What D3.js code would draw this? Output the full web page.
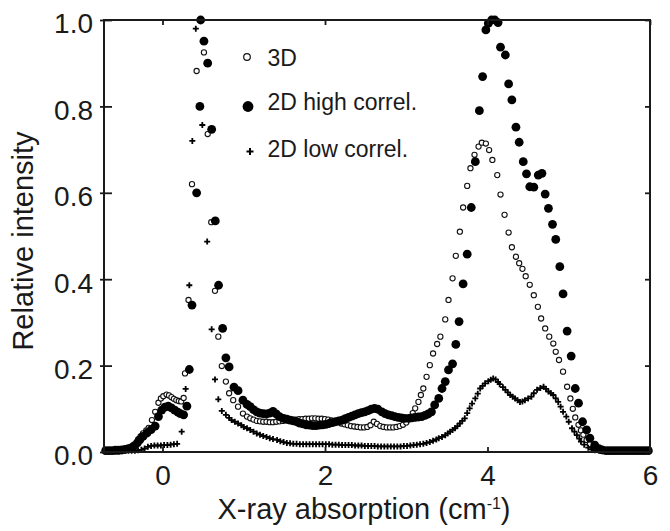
<!DOCTYPE html>
<html><head><meta charset="utf-8">
<script src="https://cdn.jsdelivr.net/npm/d3@7"></script>
<style>
body{margin:0;background:#fff;}
svg{display:block;font-family:"Liberation Sans",Arial,sans-serif;}
</style></head>
<body><svg id="c" width="670" height="531"></svg>
<script>
// ---- data ----
const xTicks = [0, 2, 4, 6];
const yTicks = [0.0, 0.2, 0.4, 0.6, 0.8, 1.0];
const xTickLabels = ["0", "2", "4", "6"];
const yTickLabels = ["0.0", "0.2", "0.4", "0.6", "0.8", "1.0"];
const legendLabels = ["3D", "2D high correl.", "2D low correl."];

const x3D = [-0.70,-0.66,-0.62,-0.58,-0.54,-0.50,-0.46,-0.42,-0.38,-0.34,-0.30,-0.27,-0.24,-0.20,-0.17,-0.13,-0.09,-0.05,-0.02,0.01,0.05,0.08,0.11,0.14,0.17,0.20,0.23,0.26,0.277,0.32,0.363,0.42,0.46,0.51,0.556,0.60,0.646,0.687,0.73,0.78,0.82,0.87,0.93,0.99,1.04,1.08,1.12,1.16,1.20,1.24,1.28,1.32,1.36,1.40,1.44,1.48,1.52,1.56,1.60,1.64,1.68,1.72,1.76,1.80,1.84,1.88,1.92,1.96,2.00,2.04,2.08,2.12,2.16,2.20,2.24,2.28,2.32,2.36,2.40,2.44,2.48,2.52,2.56,2.60,2.64,2.68,2.72,2.76,2.80,2.84,2.88,2.92,2.96,3.00,3.04,3.08,3.11,3.15,3.18,3.21,3.25,3.29,3.33,3.38,3.42,3.48,3.52,3.57,3.61,3.66,3.70,3.75,3.79,3.84,3.89,3.93,3.98,4.02,4.06,4.12,4.16,4.21,4.26,4.30,4.35,4.39,4.43,4.47,4.52,4.57,4.62,4.66,4.71,4.76,4.81,4.84,4.88,4.93,4.98,5.02,5.05,5.08,5.12,5.15,5.18,5.22,5.26,5.30,5.35,5.40,5.45,5.50];
const y3D = [0.003,0.003,0.003,0.003,0.004,0.004,0.005,0.007,0.010,0.016,0.029,0.036,0.043,0.050,0.056,0.074,0.093,0.114,0.124,0.129,0.133,0.131,0.127,0.123,0.120,0.118,0.117,0.125,0.182,0.352,0.620,0.882,1.000,0.925,0.736,0.532,0.373,0.267,0.199,0.163,0.136,0.120,0.105,0.089,0.082,0.078,0.075,0.072,0.071,0.070,0.070,0.069,0.069,0.070,0.071,0.072,0.073,0.074,0.075,0.075,0.076,0.076,0.077,0.077,0.078,0.078,0.077,0.077,0.076,0.075,0.073,0.071,0.069,0.066,0.064,0.062,0.060,0.059,0.058,0.057,0.057,0.058,0.062,0.070,0.065,0.060,0.058,0.057,0.057,0.057,0.058,0.060,0.063,0.068,0.078,0.090,0.101,0.116,0.132,0.147,0.174,0.201,0.228,0.250,0.267,0.307,0.352,0.402,0.454,0.510,0.566,0.616,0.657,0.688,0.707,0.716,0.714,0.699,0.676,0.641,0.596,0.549,0.508,0.474,0.452,0.437,0.424,0.407,0.387,0.363,0.336,0.309,0.286,0.267,0.251,0.232,0.213,0.186,0.151,0.124,0.100,0.080,0.063,0.050,0.040,0.028,0.018,0.010,0.005,0.003,0.002,0.002];

const xHigh = [-0.70,-0.66,-0.62,-0.58,-0.54,-0.50,-0.46,-0.42,-0.38,-0.35,-0.31,-0.28,-0.24,-0.19,-0.14,-0.09,-0.05,-0.01,0.03,0.07,0.11,0.15,0.19,0.22,0.26,0.30,0.33,0.363,0.42,0.46,0.47,0.51,0.556,0.605,0.65,0.69,0.74,0.78,0.82,0.88,0.93,0.99,1.04,1.08,1.12,1.16,1.20,1.24,1.28,1.32,1.36,1.40,1.44,1.49,1.53,1.57,1.61,1.65,1.69,1.73,1.77,1.81,1.85,1.89,1.93,1.97,2.01,2.05,2.09,2.13,2.17,2.21,2.25,2.29,2.33,2.37,2.41,2.45,2.49,2.53,2.57,2.61,2.65,2.70,2.74,2.78,2.82,2.86,2.90,2.94,2.98,3.03,3.07,3.11,3.15,3.19,3.23,3.27,3.31,3.35,3.40,3.44,3.48,3.52,3.57,3.61,3.65,3.70,3.75,3.80,3.85,3.90,3.94,3.98,4.01,4.05,4.09,4.13,4.16,4.22,4.26,4.30,4.35,4.39,4.44,4.48,4.52,4.57,4.625,4.67,4.71,4.75,4.80,4.84,4.89,4.93,4.98,5.03,5.08,5.12,5.17,5.22,5.26,5.32,5.37,5.41,5.46,5.50,5.54,5.58,5.62,5.66,5.70,5.74,5.78,5.82,5.86,5.90,5.94,5.98];
const yHigh = [0.003,0.003,0.003,0.004,0.004,0.005,0.006,0.008,0.010,0.014,0.021,0.028,0.036,0.044,0.052,0.060,0.082,0.097,0.104,0.106,0.102,0.097,0.092,0.089,0.086,0.106,0.191,0.340,0.600,0.800,1.000,0.951,0.900,0.747,0.535,0.386,0.286,0.218,0.197,0.150,0.142,0.120,0.110,0.105,0.098,0.093,0.090,0.089,0.088,0.090,0.094,0.088,0.082,0.078,0.076,0.074,0.072,0.070,0.067,0.065,0.063,0.062,0.061,0.061,0.062,0.063,0.064,0.066,0.068,0.070,0.072,0.074,0.077,0.080,0.083,0.086,0.089,0.091,0.093,0.096,0.099,0.101,0.099,0.093,0.089,0.086,0.084,0.082,0.080,0.079,0.078,0.078,0.079,0.080,0.081,0.082,0.085,0.088,0.093,0.109,0.124,0.147,0.163,0.190,0.204,0.249,0.302,0.389,0.458,0.566,0.672,0.790,0.869,0.977,0.992,1.000,1.000,0.994,0.937,0.919,0.852,0.815,0.752,0.717,0.672,0.644,0.614,0.613,0.641,0.645,0.597,0.564,0.527,0.492,0.429,0.366,0.280,0.222,0.147,0.113,0.070,0.051,0.032,0.016,0.008,0.005,0.003,0.003,0.003,0.003,0.003,0.003,0.003,0.003,0.003,0.003,0.003,0.003,0.003,0.003,0.003,0.003];

const xLow = [-0.70,-0.66,-0.62,-0.58,-0.54,-0.50,-0.46,-0.42,-0.38,-0.34,-0.30,-0.26,-0.22,-0.18,-0.14,-0.10,-0.06,-0.02,0.02,0.06,0.10,0.14,0.18,0.236,0.285,0.33,0.367,0.41,0.46,0.49,0.55,0.605,0.646,0.687,0.73,0.78,0.82,0.85,0.89,0.93,0.97,1.00,1.04,1.08,1.12,1.16,1.20,1.24,1.28,1.32,1.36,1.41,1.45,1.49,1.53,1.57,1.61,1.65,1.69,1.73,1.77,1.81,1.85,1.89,1.93,1.97,2.01,2.05,2.09,2.13,2.17,2.21,2.25,2.29,2.33,2.37,2.41,2.45,2.49,2.53,2.57,2.61,2.65,2.69,2.73,2.77,2.81,2.85,2.89,2.93,2.97,3.01,3.05,3.09,3.13,3.17,3.21,3.25,3.29,3.33,3.37,3.40,3.44,3.48,3.51,3.54,3.57,3.60,3.63,3.66,3.69,3.72,3.75,3.78,3.81,3.85,3.88,3.91,3.94,3.97,4.01,4.04,4.07,4.10,4.13,4.15,4.19,4.22,4.25,4.28,4.31,4.34,4.37,4.40,4.43,4.46,4.50,4.54,4.57,4.61,4.65,4.69,4.72,4.75,4.78,4.81,4.84,4.87,4.90,4.93,4.97,5.00,5.04,5.07,5.10,5.13,5.15,5.19,5.24,5.28,5.32,5.37,5.42];
const yLow = [0.002,0.002,0.002,0.002,0.002,0.002,0.003,0.003,0.003,0.003,0.004,0.005,0.008,0.012,0.014,0.015,0.015,0.015,0.016,0.016,0.017,0.018,0.019,0.047,0.146,0.386,0.720,0.980,1.000,0.757,0.487,0.284,0.168,0.122,0.095,0.086,0.079,0.074,0.070,0.066,0.062,0.058,0.055,0.051,0.047,0.043,0.040,0.037,0.035,0.032,0.030,0.028,0.025,0.023,0.021,0.020,0.019,0.019,0.018,0.018,0.018,0.018,0.018,0.018,0.018,0.018,0.018,0.018,0.017,0.017,0.017,0.016,0.016,0.016,0.016,0.015,0.015,0.015,0.014,0.014,0.014,0.014,0.013,0.013,0.013,0.013,0.013,0.013,0.013,0.013,0.014,0.014,0.015,0.016,0.017,0.018,0.019,0.021,0.023,0.026,0.029,0.032,0.035,0.039,0.043,0.047,0.051,0.055,0.060,0.066,0.072,0.078,0.090,0.101,0.112,0.124,0.135,0.147,0.153,0.159,0.164,0.167,0.170,0.168,0.162,0.157,0.150,0.144,0.138,0.132,0.128,0.124,0.120,0.116,0.117,0.120,0.124,0.128,0.136,0.144,0.148,0.151,0.146,0.140,0.136,0.132,0.124,0.116,0.105,0.093,0.082,0.070,0.055,0.047,0.039,0.031,0.024,0.017,0.010,0.006,0.004,0.003,0.002];

// ---- layout ----
const svg = d3.select("#c");
const L = 104, R = 650, T = 20, B = 452;
const x = d3.scaleLinear().domain([-0.72, 6]).range([L, R]);
const y = d3.scaleLinear().domain([0, 1]).range([B, T]);
const ink = "#1a1a1a";

// data
const toPts = (xs, ys) => xs.map((v, i) => [v, ys[i]]);
const gData = svg.append("g");
gData.selectAll("circle.o").data(toPts(x3D, y3D)).join("circle")
  .attr("class", "o").attr("cx", d => x(d[0])).attr("cy", d => y(d[1])).attr("r", 2.6)
  .attr("fill", "#fff").attr("stroke", "#111").attr("stroke-width", 1.1);
gData.selectAll("circle.f").data(toPts(xHigh, yHigh)).join("circle")
  .attr("class", "f").attr("cx", d => x(d[0])).attr("cy", d => y(d[1])).attr("r", 4.4)
  .attr("fill", "#000");
const plusPath = s => `M${-s},0H${s}M0,${-s}V${s}`;
gData.selectAll("path.p").data(toPts(xLow, yLow)).join("path")
  .attr("class", "p").attr("transform", d => `translate(${x(d[0])},${y(d[1])})`)
  .attr("d", plusPath(3)).attr("stroke", "#000").attr("stroke-width", 1.8).attr("fill", "none");

// axes
function style(g) {
  g.select(".domain").remove();
  g.selectAll(".tick line").attr("stroke", ink).attr("stroke-width", 1.8);
  g.selectAll(".tick text").attr("fill", ink).style("font-size", "28px");
}
svg.append("g").attr("transform", `translate(0,${B})`)
  .call(d3.axisBottom(x).tickValues(xTicks).tickFormat((d, i) => xTickLabels[i]).tickSize(-5).tickPadding(13.5))
  .call(style);
svg.append("g").attr("transform", `translate(0,${T})`)
  .call(d3.axisBottom(x).tickValues(xTicks).tickFormat("").tickSize(5)).call(style);
svg.append("g").attr("transform", `translate(${L},0)`)
  .call(d3.axisLeft(y).tickValues(yTicks).tickFormat((d, i) => yTickLabels[i]).tickSize(4).tickPadding(7))
  .call(style).call(g => g.selectAll(".tick text").attr("dy", "0.46em"));
svg.append("g").attr("transform", `translate(${L},0)`)
  .call(d3.axisRight(y).tickValues(yTicks).tickFormat("").tickSize(8)).call(style);
svg.append("g").attr("transform", `translate(${R},0)`)
  .call(d3.axisLeft(y).tickValues(yTicks).tickFormat("").tickSize(5)).call(style);
svg.append("rect").attr("x", L).attr("y", T).attr("width", R - L).attr("height", B - T)
  .attr("fill", "none").attr("stroke", ink).attr("stroke-width", 2);

// titles
const xt = svg.append("text").attr("x", 364).attr("y", 518.5).attr("text-anchor", "middle")
  .attr("fill", ink).style("font-size", "29px");
xt.append("tspan").text("X-ray absorption (cm");
xt.append("tspan").attr("dy", -10).style("font-size", "16px").text("-1");
xt.append("tspan").attr("dy", 10).text(")");
svg.append("text").attr("transform", "rotate(-90)").attr("x", -241).attr("y", 33)
  .attr("text-anchor", "middle").attr("fill", ink).style("font-size", "29px").text("Relative intensity");

// legend
const lg = svg.append("g");
lg.append("circle").attr("cx", 247).attr("cy", 57).attr("r", 3.3).attr("fill", "#fff").attr("stroke", "#111").attr("stroke-width", 1.2);
lg.append("circle").attr("cx", 248).attr("cy", 106.5).attr("r", 5.4).attr("fill", "#000");
lg.append("path").attr("transform", "translate(250,151.5)").attr("d", plusPath(3.5)).attr("stroke", "#000").attr("stroke-width", 2).attr("fill", "none");
const lgY = [66, 110, 157];
legendLabels.forEach((t, i) => {
  lg.append("text").attr("x", 267.5).attr("y", lgY[i]).attr("fill", ink).style("font-size", "23px").text(t);
});
</script></body></html>
